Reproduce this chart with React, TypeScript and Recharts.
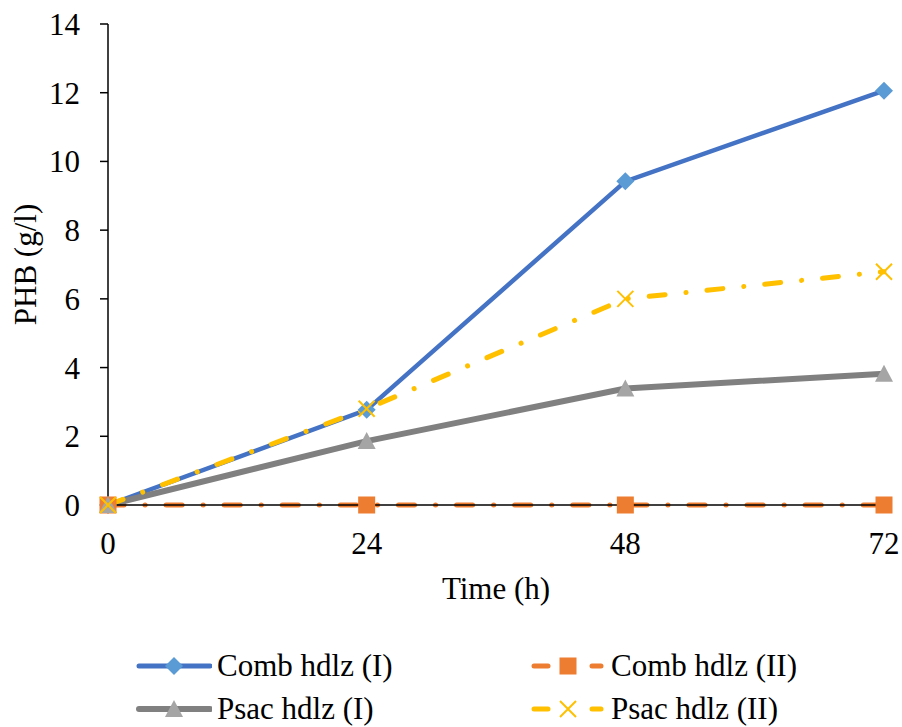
import React from "react";
import { LineChart, Line, XAxis, YAxis } from "recharts";

const hours = [0, 24, 48, 72];
const combI = [0, 2.77, 9.42, 12.06];
const combII = [0, 0, 0, 0];
const psacI = [0, 1.86, 3.39, 3.82];
const psacII = [0, 2.8, 6.0, 6.79];
const yTicks = [0, 2, 4, 6, 8, 10, 12, 14];

const data = hours.map((h, i) => ({
  h,
  combI: combI[i],
  combII: combII[i],
  psacI: psacI[i],
  psacII: psacII[i],
}));

const FONT = "Liberation Serif";
const FS = 31;
const DASH_DOT = "16 21 0.1 21";

const Diamond = ({ cx, cy }: any) => (
  <polygon points={`${cx},${cy - 9} ${cx + 9},${cy} ${cx},${cy + 9} ${cx - 9},${cy}`} fill="#5B9BD5" />
);
const Square = ({ cx, cy }: any) => (
  <rect x={cx - 8.5} y={cy - 8.5} width={17} height={17} fill="#ED7D31" />
);
const Triangle = ({ cx, cy }: any) => (
  <polygon points={`${cx},${cy - 9} ${cx + 9},${cy + 8} ${cx - 9},${cy + 8}`} fill="#A5A5A5" />
);
const Cross = ({ cx, cy }: any) => (
  <path d={`M${cx - 8},${cy - 8}L${cx + 8},${cy + 8}M${cx + 8},${cy - 8}L${cx - 8},${cy + 8}`} stroke="#FFC000" strokeWidth={2} fill="none" />
);

const legendItems = [
  { name: "Comb hdlz (I)", color: "#4472C4", width: 5, dashed: false, Marker: Diamond, left: 136, mid: 666 },
  { name: "Comb hdlz (II)", color: "#ED7D31", width: 5, dashed: true, Marker: Square, left: 530, mid: 666 },
  { name: "Psac hdlz (I)", color: "#808080", width: 6, dashed: false, Marker: Triangle, left: 136, mid: 709 },
  { name: "Psac hdlz (II)", color: "#FFC000", width: 5, dashed: true, Marker: Cross, left: 530, mid: 709 },
];

const YLabel = (props: any) => {
  const vb = props.viewBox || { x: 0, y: 24, width: 100, height: 481 };
  const x = 25;
  const y = vb.y + vb.height / 2;
  return (
    <text x={x} y={y} transform={`rotate(-90 ${x} ${y})`} textAnchor="middle" dominantBaseline="central" fontSize={FS} fontFamily={FONT} fill="#000">
      PHB (g/l)
    </text>
  );
};

export default function App() {
  return (
    <div style={{ position: "absolute", left: 0, top: 0, width: 902, height: 727, background: "#fff", fontFamily: FONT, overflow: "hidden" }}>
      <LineChart width={902} height={727} data={data} margin={{ top: 24, right: 18, left: 8, bottom: 122 }} style={{ fontFamily: FONT }}>
        <XAxis
          dataKey="h"
          type="number"
          domain={[0, 72]}
          ticks={hours}
          stroke="#000"
          strokeWidth={1.5}
          tickSize={6}
          tickMargin={21}
          height={100}
          tick={{ fill: "#000", fontSize: FS, fontFamily: FONT }}
          label={{ value: "Time (h)", position: "insideBottom", offset: 6, fill: "#000", fontSize: FS, fontFamily: FONT }}
        />
        <YAxis
          domain={[0, 14]}
          ticks={yTicks}
          stroke="#000"
          strokeWidth={1.5}
          tickSize={8}
          tickMargin={20}
          width={100}
          tick={{ fill: "#000", fontSize: FS, fontFamily: FONT }}
          label={<YLabel />}
        />
        <Line dataKey="combI" stroke="#4472C4" strokeWidth={4.5} dot={<Diamond />} activeDot={false} isAnimationActive={false} />
        <Line dataKey="combII" stroke="#ED7D31" strokeWidth={5} strokeDasharray={DASH_DOT} strokeLinecap="round" dot={<Square />} activeDot={false} isAnimationActive={false} />
        <Line dataKey="psacI" stroke="#808080" strokeWidth={6} dot={<Triangle />} activeDot={false} isAnimationActive={false} />
        <Line dataKey="psacII" stroke="#FFC000" strokeWidth={5} strokeDasharray={DASH_DOT} strokeLinecap="round" dot={<Cross />} activeDot={false} isAnimationActive={false} />
      </LineChart>
      {legendItems.map((it) => (
        <div key={it.name} style={{ position: "absolute", left: it.left, top: it.mid - 15, display: "flex", alignItems: "center", height: 30 }}>
          <svg width={76} height={30} style={{ flex: "none" }}>
            {it.dashed ? (
              <g stroke={it.color} strokeWidth={it.width} strokeLinecap="round">
                <line x1={4} y1={15} x2={18} y2={15} />
                <line x1={62} y1={15} x2={71} y2={15} />
              </g>
            ) : (
              <line x1={3} y1={15} x2={74} y2={15} stroke={it.color} strokeWidth={it.width} strokeLinecap="round" />
            )}
            <it.Marker cx={38} cy={15} />
          </svg>
          <span style={{ fontSize: FS, lineHeight: "30px", color: "#000", whiteSpace: "nowrap", fontFamily: FONT, marginLeft: 5 }}>{it.name}</span>
        </div>
      ))}
    </div>
  );
}
